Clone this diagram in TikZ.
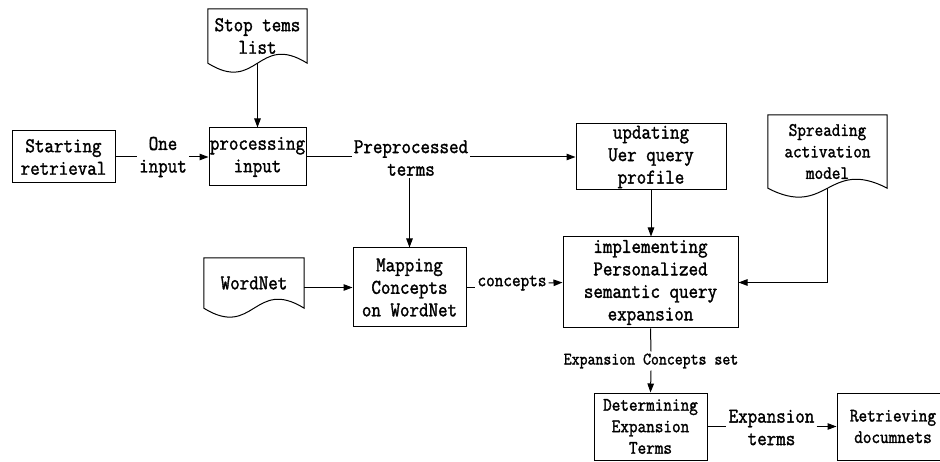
\documentclass[tikz,border=0pt]{standalone}
\usepackage{fontspec}
\newfontfamily\flowfont{Latin Modern Mono}[FakeBold=1.6, FakeStretch=0.88]
\usetikzlibrary{arrows.meta,calc}

\tikzset{
  every node/.style={font=\flowfont\fontsize{21}{22.5}\selectfont, align=center},
  small/.style={font=\flowfont\fontsize{19}{21.5}\selectfont},
  tiny/.style={font=\flowfont\fontsize{17.5}{19}\selectfont},
  box/.style={draw, line width=1pt, inner sep=0pt},
  doc/.style={inner sep=0pt},
  tag/.style={inner sep=2pt, fill=white},
  link/.style={line width=1pt},
  flow/.style={link, -{Triangle[length=9pt,width=6.5pt]}},
}

% document symbol: rectangle with a wavy lower edge around a named node
\newcommand\wavydoc[2]{%
  \draw[link] (#1.south west) -- (#1.north west) -- (#1.north east) -- (#1.south east)
    .. controls ($(#1.south)+(0,-#2)$) and ($(#1.south)+(0,#2)$) .. (#1.south west) -- cycle;}

\begin{document}
\begin{tikzpicture}[x=1pt,y=-1pt]
\useasboundingbox (0,0) rectangle (940,462);

% process boxes
\node[box, minimum width=103pt, minimum height=52pt] (start) at (63.5,157) {Starting\\retrieval};
\node[box, minimum width=97pt, minimum height=58pt] (proc) at (257.5,157) {processing\\input};
\node[box, minimum width=150pt, minimum height=66pt] (upd) at (651,157) {updating\\Uer query\\profile};
\node[box, minimum width=113pt, minimum height=79pt] (map) at (409.5,287.5) {Mapping\\Concepts\\on WordNet};
\node[box, minimum width=175pt, minimum height=91pt] (impl) at (650.5,282.5) {implementing\\Personalized\\semantic query\\expansion};
\node[box, small, minimum width=113pt, minimum height=67pt] (det) at (650.5,426.5) {Determining\\Expansion\\Terms};
\node[box, small, minimum width=112pt, minimum height=67pt] (ret) at (893,426.5) {Retrieving\\documnets};

% document symbols
\node[doc, minimum width=99pt, minimum height=54pt] (stop) at (257.5,36) {Stop tems\\list};
\node[doc, small, minimum width=119pt, minimum height=73pt] (spread) at (827.5,151.5) {Spreading\\activation\\model};
\node[doc, minimum width=100pt, minimum height=50pt] (wn) at (254,283) {WordNet};
\wavydoc{stop}{31}
\wavydoc{spread}{31}
\wavydoc{wn}{31}

% connector labels
\node[tag] (one) at (163,157) {One\\input};
\node[tag] (pre) at (411,158) {Preprocessed\\terms};
\node[tag, small] (conc) at (512,283) {concepts};
\node[tag, tiny] (ecs) at (651,361) {Expansion Concepts set};
\node[tag] (et) at (771.5,427.5) {Expansion\\terms};

% connectors
\draw[flow] (stop.south) -- (proc.north);
\draw[link] (start.east) -- (one.west);
\draw[flow] (one.east) -- (proc.west);
\draw[link] (proc.east) -- (pre.west |- proc.east);
\draw[flow] (pre.east |- proc.east) -- (upd.west);
\draw[flow] (pre.south -| map.north) -- (map.north);
\draw[flow] (upd.south) -- (upd.south |- impl.north);
\draw[flow] (spread.south) |- (impl.east);
\draw[flow] (wn.east |- map.west) -- (map.west);
\draw[link] (map.east) -- (conc.west |- map.east);
\draw[flow] (conc.east) -- (impl.west);
\draw[link] (impl.south) -- (ecs.north);
\draw[flow] (ecs.south) -- (det.north);
\draw[link] (det.east) -- (et.west |- det.east);
\draw[flow] (et.east |- det.east) -- (ret.west);
\end{tikzpicture}
\end{document}
